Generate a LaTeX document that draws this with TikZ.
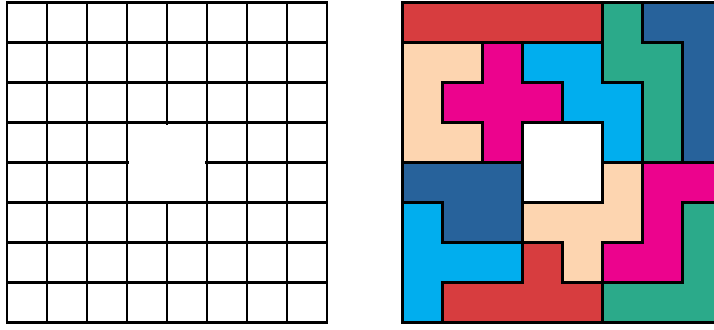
\documentclass[tikz,border=0pt]{standalone}
\definecolor{pred}{HTML}{D73D3F}
\definecolor{pgreen}{HTML}{2BAA8A}
\definecolor{pdblue}{HTML}{27629B}
\definecolor{ppeach}{HTML}{FDD5B0}
\definecolor{pmag}{HTML}{EC038D}
\definecolor{pcyan}{HTML}{01AEEE}
\tikzset{
  piece/.style={draw=black,line width=2.6pt,line join=miter},
  gridline/.style={draw=black,line width=2.6pt}
}
\begin{document}
\begin{tikzpicture}[x=1pt,y=-1pt]
\useasboundingbox (0,0) rectangle (714,329);
\clip (0,0) rectangle (714,329);
% left empty board
\begin{scope}[shift={(7,2.7)},x=40pt,y=-40pt]
  \foreach \k in {0,...,8} {
    \draw[gridline] (\k,0) -- (\k,8);
    \draw[gridline] (0,\k) -- (8,\k);
  }
  \fill[white] (3.05,3.05) rectangle (4.95,4.95);
  \draw[gridline] (3,3) rectangle (5,5);
  \draw[gridline] (0,0) rectangle (8,8);
\end{scope}
% right tiled board
\begin{scope}[shift={(402.5,2.7)},x=40pt,y=-40pt]
  \filldraw[piece,fill=pred] (0,0)--(5,0)--(5,1)--(0,1)--cycle;
  \filldraw[piece,fill=pgreen] (5,0)--(6,0)--(6,1)--(7,1)--(7,4)--(6,4)--(6,2)--(5,2)--cycle;
  \filldraw[piece,fill=pdblue] (6,0)--(8,0)--(8,4)--(7,4)--(7,1)--(6,1)--cycle;
  \filldraw[piece,fill=ppeach] (0,1)--(2,1)--(2,2)--(1,2)--(1,3)--(2,3)--(2,4)--(0,4)--cycle;
  \filldraw[piece,fill=pmag] (2,1)--(3,1)--(3,2)--(4,2)--(4,3)--(3,3)--(3,4)--(2,4)--(2,3)--(1,3)--(1,2)--(2,2)--cycle;
  \filldraw[piece,fill=pcyan] (3,1)--(5,1)--(5,2)--(6,2)--(6,4)--(5,4)--(5,3)--(4,3)--(4,2)--(3,2)--cycle;
  \filldraw[piece,fill=white] (3,3)--(5,3)--(5,5)--(3,5)--cycle;
  \filldraw[piece,fill=pdblue] (0,4)--(3,4)--(3,6)--(1,6)--(1,5)--(0,5)--cycle;
  \filldraw[piece,fill=pcyan] (0,5)--(1,5)--(1,6)--(3,6)--(3,7)--(1,7)--(1,8)--(0,8)--cycle;
  \filldraw[piece,fill=pred] (3,6)--(4,6)--(4,7)--(5,7)--(5,8)--(1,8)--(1,7)--(3,7)--cycle;
  \filldraw[piece,fill=ppeach] (5,4)--(6,4)--(6,6)--(5,6)--(5,7)--(4,7)--(4,6)--(3,6)--(3,5)--(5,5)--cycle;
  \filldraw[piece,fill=pmag] (6,4)--(8,4)--(8,5)--(7,5)--(7,7)--(5,7)--(5,6)--(6,6)--cycle;
  \filldraw[piece,fill=pgreen] (7,5)--(8,5)--(8,8)--(5,8)--(5,7)--(7,7)--cycle;
\end{scope}
\end{tikzpicture}
\end{document}
